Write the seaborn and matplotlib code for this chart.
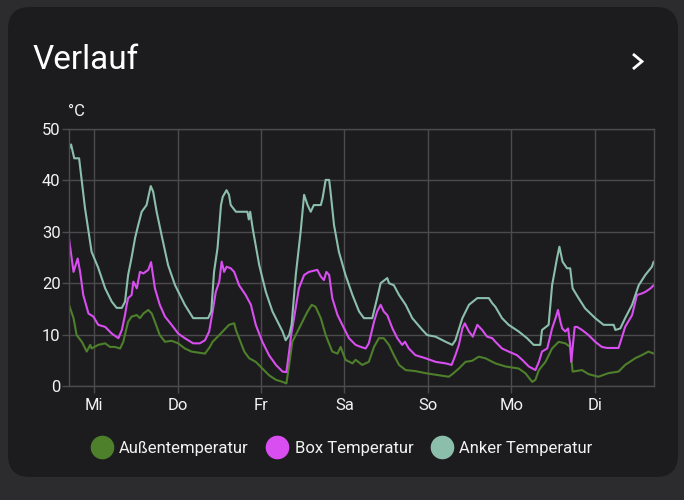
import matplotlib
matplotlib.use("Agg")
import numpy as np
import pandas as pd
import seaborn as sns
import matplotlib.pyplot as plt
from matplotlib.patches import FancyBboxPatch
from matplotlib.lines import Line2D
from matplotlib.transforms import IdentityTransform

# ---------------- data ----------------
series_names = ["Außentemperatur", "Box Temperatur", "Anker Temperatur"]
series_colors = ["#4e7f2b", "#d84ef0", "#8cbfab"]
day_labels = ["Mi", "Do", "Fr", "Sa", "So", "Mo", "Di"]
day_ticks_h = [0, 24, 48, 72, 96, 120, 144]
y_ticks = [0, 10, 20, 30, 40, 50]
y_unit = "°C"

# hours relative to Wednesday 00:00
aussen_h = [-7.2, -5.9, -5.0, -3.5, -2.1, -1.1, -0.7, 1.2, 3.2, 4.6, 6.0, 7.5, 8.4, 9.8, 10.8,
            12.3, 13.2, 14.2, 15.6, 16.6, 17.5, 18.9, 20.4, 22.3, 24.2, 26.1, 28.0, 31.9, 33.3,
            34.1, 36.0, 37.4, 38.8, 40.3, 40.8, 41.7, 43.2, 44.6, 46.5, 48.4, 50.3, 52.3, 54.2,
            55.3, 56.1, 57.0, 58.5, 59.9, 61.4, 62.6, 63.7, 65.2, 66.6, 68.5, 70.0, 70.9, 72.3,
            74.3, 75.2, 77.1, 79.0, 80.5, 81.9, 83.3, 84.8, 86.2, 87.7, 89.6, 92.4, 95.3, 99.1,
            102.0, 103.0, 104.9, 106.8, 108.7, 110.6, 112.5, 115.4, 118.3, 122.1, 124.0, 126.0,
            126.9, 127.9, 129.8, 131.7, 133.6, 135.5, 136.9, 137.6, 140.3, 142.2, 145.0, 147.9,
            150.8, 152.7, 155.6, 157.5, 159.4, 160.9]
aussen_t = [15.8, 13.2, 9.9, 8.6, 6.7, 8.0, 7.3, 8.0, 8.3, 7.6, 7.6, 7.3, 8.6, 12.5, 13.5,
            13.8, 13.2, 14.1, 14.8, 14.1, 12.5, 9.9, 8.6, 8.8, 8.3, 7.3, 6.7, 6.3, 7.6,
            8.6, 9.9, 10.9, 11.9, 12.2, 10.9, 9.3, 6.7, 5.4, 4.7, 3.4, 2.1, 1.2, 0.8,
            0.5, 4.1, 8.6, 10.6, 12.5, 14.5, 15.8, 15.4, 13.2, 9.9, 6.7, 6.3, 7.6, 5.1,
            4.4, 5.1, 4.1, 4.7, 7.6, 9.3, 9.3, 8.0, 6.0, 4.1, 3.1, 2.9, 2.5, 2.1,
            1.8, 2.3, 3.4, 4.7, 4.9, 5.7, 5.4, 4.4, 3.8, 3.4, 2.5, 0.8,
            1.2, 3.1, 4.7, 7.3, 8.6, 8.3, 7.6, 2.8, 3.1, 2.3, 1.8, 2.5,
            2.8, 4.1, 5.4, 6.0, 6.7, 6.3]

box_h = [-7.2, -5.9, -4.7, -4.0, -3.1, -1.6, -0.2, 1.2, 3.2, 5.1, 7.0, 8.0, 8.9, 9.4, 9.8,
         10.8, 11.3, 12.3, 13.2, 14.2, 15.6, 16.4, 17.5, 18.9, 20.4, 22.3, 24.2, 26.1, 28.5,
         30.4, 31.9, 33.1, 34.1, 35.0, 36.0, 36.7, 37.4, 38.1, 39.3, 40.3, 41.7, 43.6, 45.1,
         46.5, 48.4, 50.3, 52.3, 54.2, 55.3, 56.1, 56.6, 57.5, 58.9, 60.4, 61.8, 64.2, 65.2,
         66.1, 66.8, 67.6, 68.5, 70.0, 71.4, 73.3, 74.3, 75.2, 76.7, 78.1, 79.0, 80.5, 81.4,
         82.4, 83.3, 84.3, 85.8, 87.2, 88.6, 89.4, 90.5, 92.4, 95.3, 98.2, 101.1, 102.8, 103.9,
         104.9, 105.9, 106.6, 107.8, 108.9, 110.2, 111.6, 113.0, 114.5, 115.4, 117.3, 119.2,
         121.6, 123.1, 125.0, 126.9, 127.9, 128.8, 130.3, 131.7, 132.7, 133.4, 134.1, 134.6,
         135.5, 136.3, 136.9, 137.2, 138.2, 138.9, 140.3, 142.2, 144.1, 146.0, 147.5, 150.8,
         151.7, 152.7, 154.7, 156.1, 157.5, 158.5, 160.0, 160.9]
box_t = [28.7, 22.2, 24.8, 22.2, 17.7, 14.1, 13.5, 11.9, 11.5, 10.2, 9.3, 10.9, 13.8, 15.8, 17.1,
         17.7, 20.3, 19.0, 22.2, 21.9, 22.6, 24.1, 19.0, 15.8, 13.5, 11.9, 10.2, 9.3, 8.3,
         8.3, 8.9, 10.6, 14.5, 18.3, 20.3, 24.2, 22.2, 23.2, 22.9, 22.2, 19.6, 17.7, 15.8,
         11.9, 8.6, 6.0, 4.1, 2.8, 2.7, 6.7, 9.6, 13.2, 19.0, 21.6, 22.2, 22.6, 21.3,
         20.6, 22.2, 21.6, 17.1, 13.8, 11.9, 9.3, 8.6, 8.0, 7.6, 7.3, 8.3, 12.5, 14.5,
         15.8, 14.5, 13.8, 11.2, 9.3, 8.0, 8.6, 7.3, 6.0, 5.4, 4.7, 4.4, 4.1, 6.0,
         8.0, 11.2, 12.2, 10.6, 9.6, 11.9, 10.9, 9.6, 9.3, 8.6, 7.3, 6.7,
         6.0, 5.1, 3.8, 3.1, 4.7, 6.7, 7.3, 11.2, 13.2, 14.8, 12.5, 11.2,
         10.6, 11.2, 8.0, 4.7, 11.5, 11.5, 10.9, 9.9, 8.6, 7.6, 7.4, 7.4,
         9.3, 11.5, 13.8, 17.7, 18.0, 18.3, 19.0, 19.6]

anker_h = [-7.2, -6.6, -5.7, -4.3, -2.6, -0.7, 1.2, 3.2, 5.1, 6.5, 8.0, 8.9, 9.8, 10.8, 11.8,
           12.7, 13.7, 15.1, 16.3, 17.0, 18.0, 19.4, 21.3, 23.3, 26.1, 28.5, 32.8, 33.7, 34.5,
           35.5, 36.5, 37.0, 38.1, 38.8, 39.3, 40.8, 44.1, 44.5, 44.9, 45.6, 47.5, 49.4, 51.3,
           54.2, 55.1, 56.1, 56.8, 58.0, 59.4, 60.4, 61.4, 62.3, 63.2, 65.2, 65.7, 66.6, 67.6,
           68.0, 69.0, 70.4, 72.3, 74.3, 76.2, 77.6, 80.0, 81.4, 82.4, 84.3, 84.8, 86.2, 87.7,
           89.6, 91.5, 94.4, 95.8, 98.2, 101.1, 103.0, 103.9, 105.9, 107.8, 110.2, 113.5, 114.5,
           115.4, 117.3, 119.2, 122.1, 124.5, 126.4, 128.3, 128.8, 130.7, 131.7, 133.1, 133.8,
           134.7, 136.0, 136.9, 137.6, 139.3, 141.2, 144.1, 146.5, 149.4, 149.9, 151.3, 152.7,
           154.7, 156.6, 158.5, 160.4, 160.9]
anker_t = [46.1, 47.0, 44.3, 44.3, 34.6, 26.1, 23.0, 19.0, 16.4, 15.2, 15.2, 16.4, 21.6, 25.0, 28.8,
           31.3, 33.9, 35.2, 38.9, 37.8, 33.9, 29.4, 23.5, 19.6, 15.8, 13.2, 13.2, 14.5, 22.2,
           26.8, 35.2, 36.8, 38.1, 37.2, 35.2, 33.9, 33.9, 32.4, 33.9, 30.7, 23.5, 18.3, 14.5,
           10.6, 8.9, 9.9, 11.9, 21.6, 30.0, 37.2, 35.2, 33.9, 35.2, 35.2, 36.5, 40.1, 40.1,
           37.8, 31.3, 26.1, 21.6, 17.7, 14.5, 13.2, 13.2, 17.1, 20.0, 21.0, 20.0, 19.6, 17.7,
           15.8, 13.2, 10.9, 9.9, 9.6, 8.6, 8.0, 8.9, 13.2, 15.8, 17.1, 17.1, 16.1,
           15.4, 13.2, 11.9, 10.6, 9.3, 8.0, 8.0, 10.9, 11.9, 19.6, 24.8, 27.1,
           24.2, 22.9, 22.9, 19.0, 17.1, 15.1, 13.2, 11.9, 11.9, 10.9, 11.2, 13.2,
           15.8, 19.6, 21.6, 23.2, 24.2]

# ---------------- styling ----------------
outer_bg = "#2c2c2e"
card_bg = "#1c1c1e"
grid_col = "#4b4b4d"
text_col = "#f2f2f2"

sns.set_theme(style="dark")
plt.rcParams["font.family"] = ["Roboto", "DejaVu Sans"]

W, H = 684, 500
fig = plt.figure(figsize=(W / 100, H / 100), dpi=100, facecolor=outer_bg)

card = FancyBboxPatch((8, H - 477), 670, 470,
                      boxstyle="round,pad=0,rounding_size=22",
                      transform=IdentityTransform(), facecolor=card_bg,
                      edgecolor="none", zorder=-10)
fig.patches.append(card)

fig.text(33 / W, 1 - 69 / H, "Verlauf", fontsize=24, color="#ffffff",
         ha="left", va="baseline")
chev = Line2D([633, 642, 633], [H - 54, H - 61.5, H - 69], transform=IdentityTransform(),
              color="#ffffff", linewidth=2.0, solid_capstyle="butt", solid_joinstyle="miter")
fig.lines.append(chev)

ax = fig.add_axes([69 / W, 1 - 386 / H, (654 - 69) / W, (386 - 129) / H])
ax.set_zorder(5)
ax.set_facecolor(card_bg)

df = pd.concat([
    pd.DataFrame({"h": aussen_h, "t": aussen_t, "series": series_names[0]}),
    pd.DataFrame({"h": box_h, "t": box_t, "series": series_names[1]}),
    pd.DataFrame({"h": anker_h, "t": anker_t, "series": series_names[2]}),
], ignore_index=True)

sns.lineplot(data=df, x="h", y="t", hue="series", hue_order=series_names,
             palette=series_colors, estimator=None, sort=False, linewidth=1.5,
             legend=False, ax=ax)

ax.set_xlim(-7.2, 161.0)
ax.set_ylim(0, 50)
ax.set_xticks(day_ticks_h)
ax.set_xticklabels(day_labels)
ax.set_yticks(y_ticks)
ax.set_xlabel("")
ax.set_ylabel("")
ax.grid(True, color=grid_col, linewidth=1.0)
for s in ax.spines.values():
    s.set_visible(True)
    s.set_color(grid_col)
    s.set_linewidth(1.0)
ax.tick_params(axis="x", colors=grid_col, labelcolor=text_col, labelsize=12,
               length=5, width=1.0, pad=4, direction="out", bottom=True)
ax.tick_params(axis="y", colors=grid_col, labelcolor=text_col, labelsize=12,
               length=5, width=1.0, pad=1, direction="out", left=True)

fig.text(68 / W, 1 - 112 / H, y_unit, fontsize=12, color=text_col, ha="left", va="center")

handles = [Line2D([], [], marker="o", linestyle="", markersize=16,
                  markerfacecolor=c, markeredgecolor=c) for c in series_colors]
fig.legend(handles, series_names, loc="center", bbox_to_anchor=(0.5, 1 - 448 / H),
           ncol=3, frameon=False, fontsize=12, labelcolor=text_col,
           handletextpad=0.45, columnspacing=1.1, handlelength=1.2)

fig.savefig("out.png", dpi=100, facecolor=outer_bg)
